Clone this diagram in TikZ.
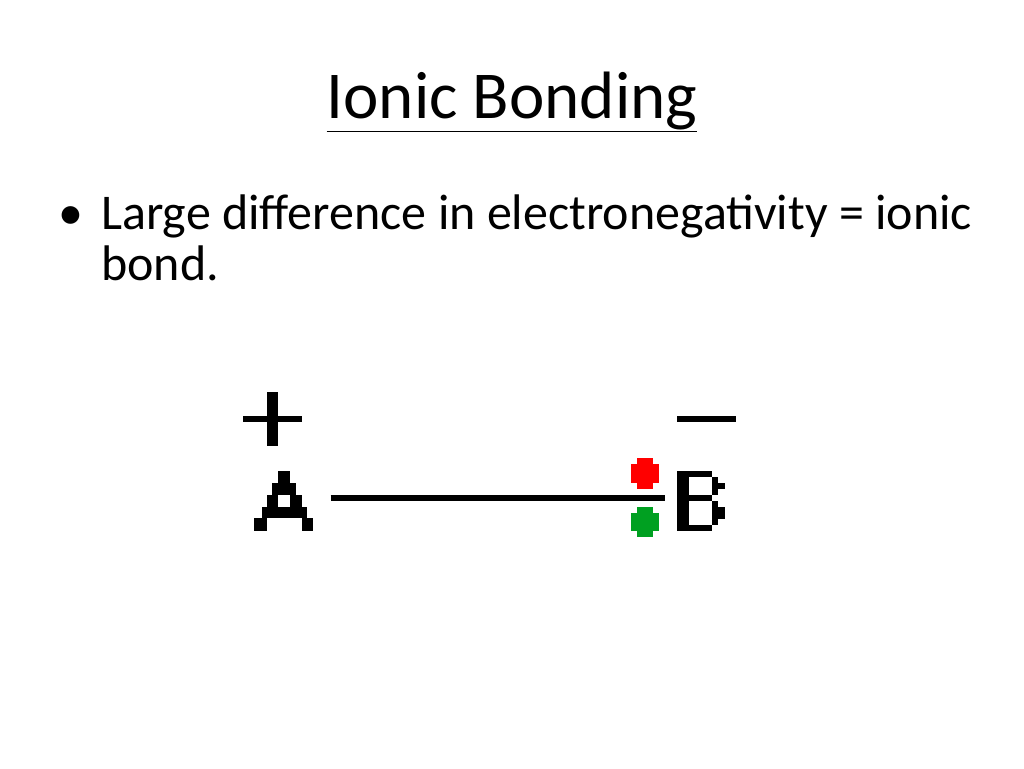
\documentclass[tikz,border=0pt]{standalone}
\usepackage{fontspec}
\setmainfont{Carlito}
\definecolor{dred}{HTML}{FF0000}
\definecolor{dgreen}{HTML}{00A021}
\begin{document}
\begin{tikzpicture}[x=1pt,y=-1pt,
  px/.style={fill=black,draw=none},
  txt/.style={inner sep=0pt,anchor=base west}]
\useasboundingbox (0,0) rectangle (1024,768);
\node[inner sep=0pt,anchor=base] (title) at (512,118) {\fontsize{67}{80}\selectfont\underline{Ionic Bonding}};
\node[txt] (bul) at (58,229) {\fontsize{50}{60}\selectfont •};
\node[txt] (l1) at (101,229) {\fontsize{50}{60}\selectfont Large difference in electronegativity = ionic};
\node[txt] (l2) at (101,280) {\fontsize{50}{60}\selectfont bond.};
% plus
\fill[px] (242.7,416) rectangle (301.7,422.3);
\fill[px] (266.7,391.7) rectangle (278.3,446);
% minus
\fill[px] (677.3,416) rectangle (736,422.3);
% A
\fill[px] (278.3,471) rectangle (290,483.3);
\fill[px] (272.3,483.3) rectangle (296,495);
\fill[px] (266.7,495) rectangle (278.3,506.7);
\fill[px] (290,495) rectangle (301.7,506.7);
\fill[px] (261.7,506.7) rectangle (306.7,518.3);
\fill[px] (254.3,518.3) rectangle (266.7,530.7);
\fill[px] (301.7,518.3) rectangle (313.3,530.7);
% B
\fill[px] (677.3,471) rectangle (689.3,530.7);
\fill[px] (689.3,471) rectangle (711.7,477.3);
\fill[px] (711.7,477.3) rectangle (718.3,495);
\fill[px] (718.3,483.3) rectangle (725,489.3);
\fill[px] (689.3,495) rectangle (711.7,501);
\fill[px] (711.7,501) rectangle (718.3,525);
\fill[px] (718.3,506.7) rectangle (725,519.3);
\fill[px] (689.3,525) rectangle (711.7,530.7);
% named anchors for bond
\coordinate (ca) at (330.7,498);
\coordinate (cb) at (665.3,498);
\draw[line width=6pt] (ca) -- (cb);
% electrons
\fill[dred] (637,458.3) rectangle (653.3,489);
\fill[dred] (631,464.3) rectangle (659.3,483);
\fill[dgreen] (637,506.7) rectangle (653.3,536.7);
\fill[dgreen] (631,512.7) rectangle (659.3,530.7);
\end{tikzpicture}
\end{document}
